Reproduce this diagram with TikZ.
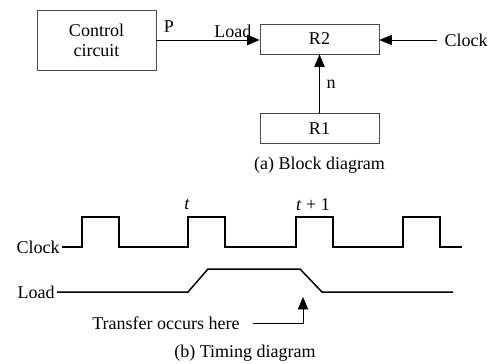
\documentclass[tikz,border=0pt]{standalone}
\usepackage{fontspec}
\setmainfont{Liberation Serif}
\usetikzlibrary{arrows,positioning}

\begin{document}
\begin{tikzpicture}[x=0.5pt,y=-0.5pt,->,>=triangle 45,thin,font=\fontsize{9}{10}\selectfont]
\tikzstyle{blk}=[draw=black!70,rectangle,minimum width=59.5pt,minimum height=15pt,inner sep=0pt,align=center]
\tikzstyle{wave}=[-,line width=0.75pt,line join=miter]
\tikzstyle{sig}=[anchor=east,inner xsep=1pt]

\useasboundingbox (0,0) rectangle (488,364);

% block diagram
\node[blk]          (ctrl) [minimum height=30pt] at (96.5,40) {Control\\circuit};
\node[blk]          (R2) at (319.5,39) {R2};
\node[blk]          (R1) [below=29.5pt of R2] {R1};
\node               (clk) at (466,40) {Clock};
\node               (capa) [below=3pt of R1] {(a) Block diagram};

\path
(ctrl) edge node[pos=0.12,above] {P} node[pos=0.74,above,inner sep=1pt] {Load} (ctrl -| R2.west)
(clk) edge (clk -| R2.east)
(R1) edge node[right] {n} (R2)
;

% timing diagram
\node[sig]          (clkw) at (62,247) {Clock};
\node[sig]          (ldw) at (57,292) {Load};
\node               (t0) at (187,205) {\textit{t}};
\node               (t1) at (313,205) {\textit{t} + 1};

\draw[wave] (clkw.east) \foreach \r in {82,188,296,403}{ -- (\r,247) -- (\r,217) -- (\r+37,217) -- (\r+37,247)} -- (462,247);
\draw[wave] (ldw.east) -- (188,292) -- (208,269) -- (300,269) -- (322,292) -- (453,292);

\node               (xfer) at (166,323) {Transfer occurs here};
\coordinate         (xhit) at (303,297);
\draw ([xshift=3pt]xfer.east) -| (xhit);

\node               (capb) at (245,353) {(b) Timing diagram};
\end{tikzpicture}
\end{document}
